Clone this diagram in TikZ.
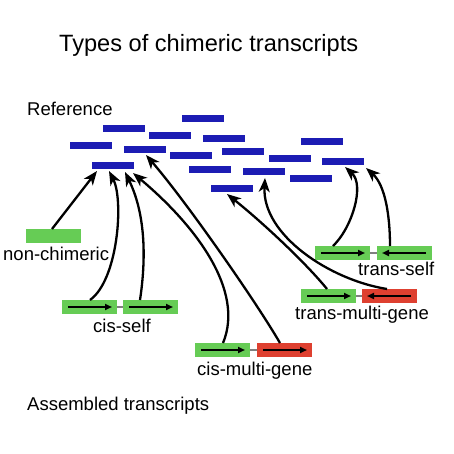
\documentclass[tikz,border=0pt]{standalone}
\usepackage{fontspec}
\setmainfont{Liberation Sans}
\usetikzlibrary{arrows.meta,calc}
\definecolor{bblue}{RGB}{28,28,180}
\definecolor{bgreen}{RGB}{102,204,85}
\definecolor{bred}{RGB}{222,64,48}
\begin{document}
\begin{tikzpicture}[x=1pt,y=-1pt,
 bbar/.style={fill=bblue,draw=none,minimum width=42pt,minimum height=7pt,inner sep=0pt,outer sep=0pt,anchor=north west},
 gbar/.style={fill=bgreen,draw=none,minimum width=55pt,minimum height=14pt,inner sep=0pt,outer sep=0pt,anchor=north west},
 rbar/.style={gbar,fill=bred},
 lbl/.style={font=\fontsize{18.5}{22}\selectfont,anchor=base west,inner sep=0pt},
 conn/.style={line width=2.3pt,-{Stealth[length=14pt,width=11pt,inset=4pt]}},
 innerarr/.style={line width=1.8pt,-{Triangle[length=7pt,width=6pt]}},
 linkline/.style={line width=1.4pt,gray}
]
\path[use as bounding box,fill=white] (0,0) rectangle (454,454);

% titles
\node[lbl,font=\fontsize{23.6}{28}\selectfont] (title) at (59,52) {Types of chimeric transcripts};
\node[lbl] (ref) at (27,116) {Reference};
\node[lbl] (asm) at (27,410) {Assembled transcripts};

% reference (blue) transcripts
\node[bbar] (B) at (182,115) {};
\node[bbar] (A) at (103,125) {};
\node[bbar] (C) at (149,132) {};
\node[bbar] (F) at (203,135) {};
\node[bbar] (L) at (301,138) {};
\node[bbar] (D) at (70,142) {};
\node[bbar] (E) at (124,146) {};
\node[bbar] (J) at (222,148) {};
\node[bbar] (G) at (170,152) {};
\node[bbar] (M) at (269,155) {};
\node[bbar] (N) at (322,158) {};
\node[bbar] (H) at (92,162) {};
\node[bbar] (I) at (189,166) {};
\node[bbar] (O) at (243,168) {};
\node[bbar] (P) at (290,175) {};
\node[bbar] (K) at (211,185) {};

% assembled transcripts
\node[gbar] (nc) at (26,229) {};
\node[lbl] (nclbl) at (3,260) {non-chimeric};

\node[gbar] (cs1) at (62,300) {};
\node[gbar] (cs2) at (123,300) {};
\node[lbl] (cslbl) at (93,332) {cis-self};

\node[gbar] (ts1) at (315,246) {};
\node[gbar] (ts2) at (377,246) {};
\node[lbl] (tslbl) at (358,275) {trans-self};

\node[gbar] (tm1) at (301,289) {};
\node[rbar] (tm2) at (362,289) {};
\node[lbl] (tmlbl) at (295,319) {trans-multi-gene};

\node[gbar] (cm1) at (195,343) {};
\node[rbar] (cm2) at (257,343) {};
\node[lbl] (cmlbl) at (197,375) {cis-multi-gene};

% links between segments
\draw[linkline] (cs1.east) -- (cs2.west);
\draw[linkline] (ts1.east) -- (ts2.west);
\draw[linkline] (tm1.east) -- (tm2.west);
\draw[linkline] (cm1.east) -- (cm2.west);

% orientation arrows inside segments
\draw[innerarr] ([xshift=6pt]cs1.west) -- ([xshift=-5pt]cs1.east);
\draw[innerarr] ([xshift=6pt]cs2.west) -- ([xshift=-5pt]cs2.east);
\draw[innerarr] ([xshift=6pt]ts1.west) -- ([xshift=-5pt]ts1.east);
\draw[innerarr] ([xshift=-6pt]ts2.east) -- ([xshift=5pt]ts2.west);
\draw[innerarr] ([xshift=6pt]tm1.west) -- ([xshift=-5pt]tm1.east);
\draw[innerarr] ([xshift=-6pt]tm2.east) -- ([xshift=5pt]tm2.west);
\draw[innerarr] ([xshift=6pt]cm1.west) -- ([xshift=-5pt]cm1.east);
\draw[innerarr] ([xshift=6pt]cm2.west) -- ([xshift=-5pt]cm2.east);

% mappings to reference
\draw[conn] ($(nc.north west)+(26,0)$) -- ($(H.south west)+(5,2)$);
\draw[conn] ($(cs1.north west)+(28,0)$) .. controls (118,280) and (124,200) .. ($(H.south west)+(17,2)$);
\draw[conn] ($(cs2.north west)+(17,0)$) .. controls (146,260) and (146,215) .. ($(H.south west)+(33,3)$);
\draw[conn] ($(cm1.north west)+(28,0)$) .. controls (245,290) and (195,225) .. ($(H.south east)+(-1,4)$);
\draw[conn] ($(cm2.north west)+(23,0)$) .. controls (255,300) and (185,200) .. ($(E.south west)+(22,2)$);
\draw[conn] ($(tm1.north west)+(26,0)$) .. controls (305,262) and (262,222) .. ($(K.south west)+(16,2)$);
\draw[conn] ($(tm2.north west)+(25,0)$) .. controls (330,280) and (262,235) .. ($(O.south west)+(22,3)$);
\draw[conn] ($(ts1.north west)+(18,0)$) .. controls (352,228) and (365,185) .. ($(N.south west)+(23,2)$);
\draw[conn] ($(ts2.north west)+(13,0)$) .. controls (390,215) and (385,185) .. ($(N.south west)+(44,3)$);
\end{tikzpicture}
\end{document}
